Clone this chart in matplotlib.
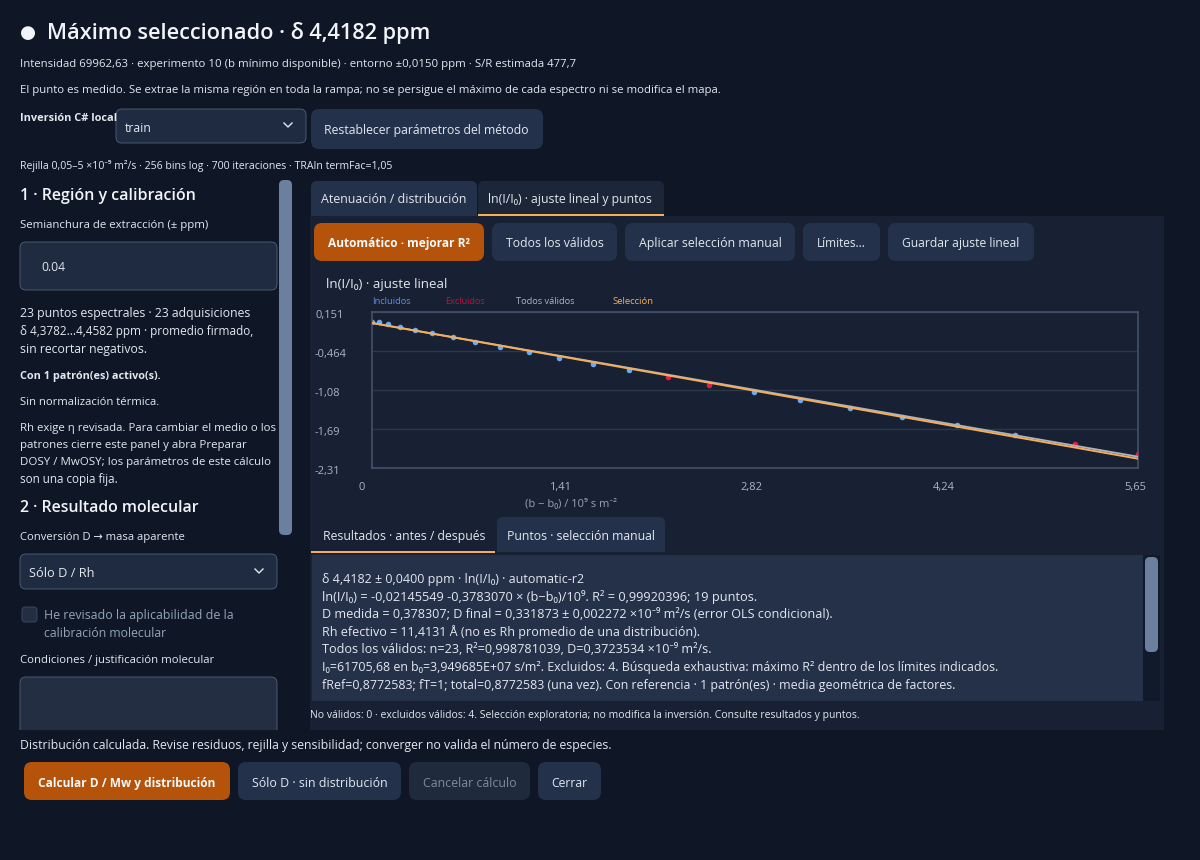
import matplotlib
matplotlib.use("Agg")
import matplotlib.pyplot as plt
import numpy as np
from matplotlib.patches import FancyBboxPatch, Rectangle
from matplotlib.transforms import ScaledTranslation

FAMILY = ['Open Sans', 'Noto Sans', 'DejaVu Sans']
plt.rcParams['font.family'] = FAMILY

# ---- chart data ----
b_included = [0.000, 0.049, 0.120, 0.207, 0.317, 0.445, 0.595, 0.760, 0.947, 1.156, 1.382, 1.630, 1.896,
              2.815, 3.160, 3.526, 3.912, 4.318, 4.743]
ln_included = [-0.001, -0.012, -0.038, -0.085, -0.132, -0.185, -0.248, -0.316, -0.395, -0.474, -0.568, -0.663, -0.762,
               -1.114, -1.240, -1.366, -1.497, -1.623, -1.791]
b_excluded = [2.181, 2.488, 5.186, 5.648]
ln_excluded = [-0.878, -0.993, -1.922, -2.085]
fit_x = [0.0, 5.65]
fit_selection = [-0.0215, -2.159]
fit_all = [-0.023, -2.127]
x_ticks = [0, 1.41, 2.82, 4.24, 5.65]
x_tick_labels = ['0', '1,41', '2,82', '4,24', '5,65']
y_ticks = [0.151, -0.464, -1.08, -1.69, -2.31]
y_tick_labels = ['0,151', '-0,464', '-1,08', '-1,69', '-2,31']
legend_labels = ['Incluidos', 'Excluidos', 'Todos válidos', 'Selección']
result_lines = [
    'δ 4,4182 ± 0,0400 ppm · ln(I/I₀) · automatic-r2',
    'ln(I/I₀) = -0,02145549 -0,3783070 × (b−b₀)/10⁹. R² = 0,99920396; 19 puntos.',
    'D medida = 0,378307; D final = 0,331873 ± 0,002272 ×10⁻⁹ m²/s (error OLS condicional).',
    'Rh efectivo = 11,4131 Å (no es Rh promedio de una distribución).',
    'Todos los válidos: n=23, R²=0,998781039, D=0,3723534 ×10⁻⁹ m²/s.',
    'I₀=61705,68 en b₀=3,949685E+07 s/m². Excluidos: 4. Búsqueda exhaustiva: máximo R² dentro de los límites indicados.',
    'fRef=0,8772583; fT=1; total=0,8772583 (una vez). Con referencia · 1 patrón(es) · media geométrica de factores.',
]

# ---- palette ----
PAGE = '#0f1726'
PANEL = '#172133'
BTN = '#23314a'
ORANGE = '#b45309'
ACCENT = '#f6ad55'
TEXT = '#e2e8f0'
MUTED = '#94a3b8'
THUMB = '#6b7f9e'

fig = plt.figure(figsize=(12, 8.6), dpi=100, facecolor=PAGE)
ui = fig.add_axes([0, 0, 1, 1])
ui.set_xlim(0, 1200)
ui.set_ylim(860, 0)
ui.axis('off')
renderer = fig.canvas.get_renderer()


def T(x0, x1, y, s, color=TEXT, weight='normal', host=ui):
    t = host.text(x0, y, s, color=color, weight=weight, fontsize=10, ha='left', va='center_baseline', family=FAMILY)
    w = t.get_window_extent(renderer).width
    t.set_fontsize(10 * (x1 - x0) / w)
    return t


def box(x0, y0, x1, y1, fc, ec='none', r=6, lw=0.6, z=1):
    ui.add_patch(FancyBboxPatch((x0, y0), x1 - x0, y1 - y0, boxstyle=f'round,pad=0,rounding_size={r}',
                                fc=fc, ec=ec, lw=lw, zorder=z))


def rect(x0, y0, x1, y1, fc, z=1):
    ui.add_patch(Rectangle((x0, y0), x1 - x0, y1 - y0, fc=fc, ec='none', zorder=z))


def chevron(x, y):
    ui.plot([x - 4, x, x + 4], [y - 2, y + 2, y - 2], color=TEXT, lw=1.0, zorder=3)


# header
T(20, 36, 31, '●', '#f1f5f9')
T(47, 432, 31, 'Máximo seleccionado · δ 4,4182 ppm', '#f1f5f9', 'semibold')
T(20, 574, 63, 'Intensidad 69962,63 · experimento 10 (b mínimo disponible) · entorno ±0,0150 ppm · S/R estimada 477,7')
T(20, 718, 89, 'El punto es medido. Se extrae la misma región en toda la rampa; no se persigue el máximo de cada espectro ni se modifica el mapa.')
T(20, 117, 117, 'Inversión C# local', TEXT, 'bold')
box(116, 109, 306, 143, '#1e2b40', '#51627e')
T(125, 152, 127, 'train')
chevron(288, 125)
box(311, 109, 543, 149, BTN, r=8)
T(324, 529, 129, 'Restablecer parámetros del método')
T(20, 394, 164, 'Rejilla 0,05–5 ×10⁻⁹ m²/s · 256 bins log · 700 iteraciones · TRAIn termFac=1,05')

# left column
box(279, 180, 292, 535, THUMB, r=5, z=2)
T(20, 196, 194, '1 · Región y calibración', '#f1f5f9', 'semibold')
T(20, 208, 224, 'Semianchura de extracción (± ppm)')
box(20, 242, 277, 290, '#1e2b40', '#51627e')
T(41, 65, 266, '0.04')
T(20, 250, 312, '23 puntos espectrales · 23 adquisiciones')
T(20, 253, 330, 'δ 4,3782...4,4582 ppm · promedio firmado,')
T(20, 147, 348, 'sin recortar negativos.')
T(20, 160, 375, 'Con 1 patrón(es) activo(s).', TEXT, 'bold')
T(20, 159, 401, 'Sin normalización térmica.')
T(20, 274, 427, 'Rh exige η revisada. Para cambiar el medio o los')
T(20, 246, 444, 'patrones cierre este panel y abra Preparar')
T(20, 270, 461, 'DOSY / MwOSY; los parámetros de este cálculo')
T(20, 118, 478, 'son una copia fija.')
T(20, 200, 506, '2 · Resultado molecular', '#f1f5f9', 'semibold')
T(20, 185, 536, 'Conversión D → masa aparente')
box(20, 554, 277, 589, '#1e2b40', '#51627e')
T(29, 94, 572, 'Sólo D / Rh')
chevron(259, 571)
box(22, 607, 37, 622, '#232e42', '#3d4c66', r=3)
T(44, 232, 614, 'He revisado la aplicabilidad de la', MUTED)
T(44, 166, 632, 'calibración molecular', MUTED)
T(20, 214, 659, 'Condiciones / justificación molecular')
box(20, 677, 277, 745, '#232e42', '#51627e', z=1)
rect(0, 730, 310, 860, PAGE, z=2)

# footer
T(20, 611, 744, 'Distribución calculada. Revise residuos, rejilla y sensibilidad; converger no valida el número de especies.').set_zorder(5)
box(24, 762, 230, 800, ORANGE, r=8, z=3)
T(38, 216, 782, 'Calcular D / Mw y distribución', '#f8fafc', 'bold').set_zorder(5)
box(238, 762, 401, 800, BTN, r=8, z=3)
T(252, 387, 782, 'Sólo D · sin distribución').set_zorder(5)
box(409, 762, 530, 800, '#1f2a3c', r=8, z=3)
T(423, 516, 782, 'Cancelar cálculo', '#7f8b9d').set_zorder(5)
box(538, 762, 601, 800, BTN, r=8, z=3)
T(551, 587, 782, 'Cerrar').set_zorder(5)

# right panel
rect(310, 216, 1164, 730, PANEL)
box(311, 181, 477, 222, BTN, r=6)
box(478, 181, 664, 222, '#1b2638', r=6)
rect(311, 216, 1164, 230, PANEL, z=1)
T(321, 466, 198, 'Atenuación / distribución').set_zorder(5)
T(488, 653, 198, 'ln(I/I₀) · ajuste lineal y puntos').set_zorder(5)
rect(478, 214, 664, 216, ACCENT, z=4)

box(314, 223, 484, 261, ORANGE, r=8, z=2)
T(328, 470, 242, 'Automático · mejorar R²', '#f8fafc', 'bold').set_zorder(5)
for x0, x1, label in [(492, 617, 'Todos los válidos'), (625, 795, 'Aplicar selección manual'),
                      (803, 880, 'Límites...'), (888, 1034, 'Guardar ajuste lineal')]:
    box(x0, 223, x1, 261, BTN, r=8, z=2)
    T(x0 + 14, x1 - 14, 242, label).set_zorder(5)

T(326, 448, 283, 'ln(I/I₀) · ajuste lineal', TEXT).set_zorder(5)
for (x0, x1), label, c in zip([(372, 411), (445, 485), (516, 575), (612, 653)], legend_labels,
                              ['#5b8def', '#be123c', '#a9b4c4', ACCENT]):
    T(x0, x1, 300, label, c).set_zorder(5)
T(525, 617, 503, '(b − b₀) / 10⁹ s m⁻²', MUTED).set_zorder(5)

# the chart
ax = fig.add_axes([372 / 1200, (860 - 468.3) / 860, 766 / 1200, 156.3 / 860])
ax.set_facecolor(PANEL)
ax.set_xlim(0, 5.65)
ax.set_ylim(-2.31, 0.151)
ax.grid(True, axis='y', color='#2b374b', lw=1)
ax.set_axisbelow(True)
for s in ax.spines.values():
    s.set_color('#465570')
    s.set_linewidth(1.1)
ax.scatter(b_included, ln_included, s=16, color='#68a9f7', linewidths=0, zorder=2)
ax.scatter(b_excluded, ln_excluded, s=16, color='#e11d48', linewidths=0, zorder=2)
ax.plot(fit_x, fit_all, color='#a9b4c4', lw=1.3, zorder=3)
ax.plot(fit_x, fit_selection, color=ACCENT, lw=1.4, zorder=4)
ax.set_xticks(x_ticks, x_tick_labels, fontsize=8, color='#a9b4c4')
ax.set_yticks(y_ticks, y_tick_labels, fontsize=8, color='#a9b4c4')
ax.tick_params(length=0, pad=0)
ax.tick_params(axis='x', pad=10)
ax.tick_params(axis='y', pad=0)
for i, lab in enumerate(ax.get_xticklabels()):
    shift = -0.10 if i == 0 else -0.03
    lab.set_transform(lab.get_transform() + ScaledTranslation(shift, 0, fig.dpi_scale_trans))
for lab in ax.get_yticklabels():
    lab.set_horizontalalignment('left')
    lab.set_transform(lab.get_transform() + ScaledTranslation(-0.57, -0.02, fig.dpi_scale_trans))

# results tabs
T(323, 485, 535, 'Resultados · antes / después').set_zorder(5)
rect(311, 551, 495, 553, ACCENT, z=4)
box(497, 517, 665, 560, BTN, r=6, z=2)
rect(497, 552, 1164, 555, PANEL, z=3)
T(507, 655, 535, 'Puntos · selección manual').set_zorder(5)
rect(312, 555, 1143, 701, '#253149', z=3)
rect(1143, 555, 1160, 701, '#111a2a', z=3)
box(1145, 557, 1158, 652, THUMB, r=5, z=4)
line_ys = [578, 596, 613, 631, 648, 666, 684]
line_ends = [584, 756, 829, 696, 709, 994, 953]
for y, x1, line in zip(line_ys, line_ends, result_lines):
    T(322, x1, y, line).set_zorder(5)
T(310, 856, 714, 'No válidos: 0 · excluidos válidos: 4. Selección exploratoria; no modifica la inversión. Consulte resultados y puntos.').set_zorder(5)

fig.savefig('out.png', dpi=100, facecolor=PAGE)
